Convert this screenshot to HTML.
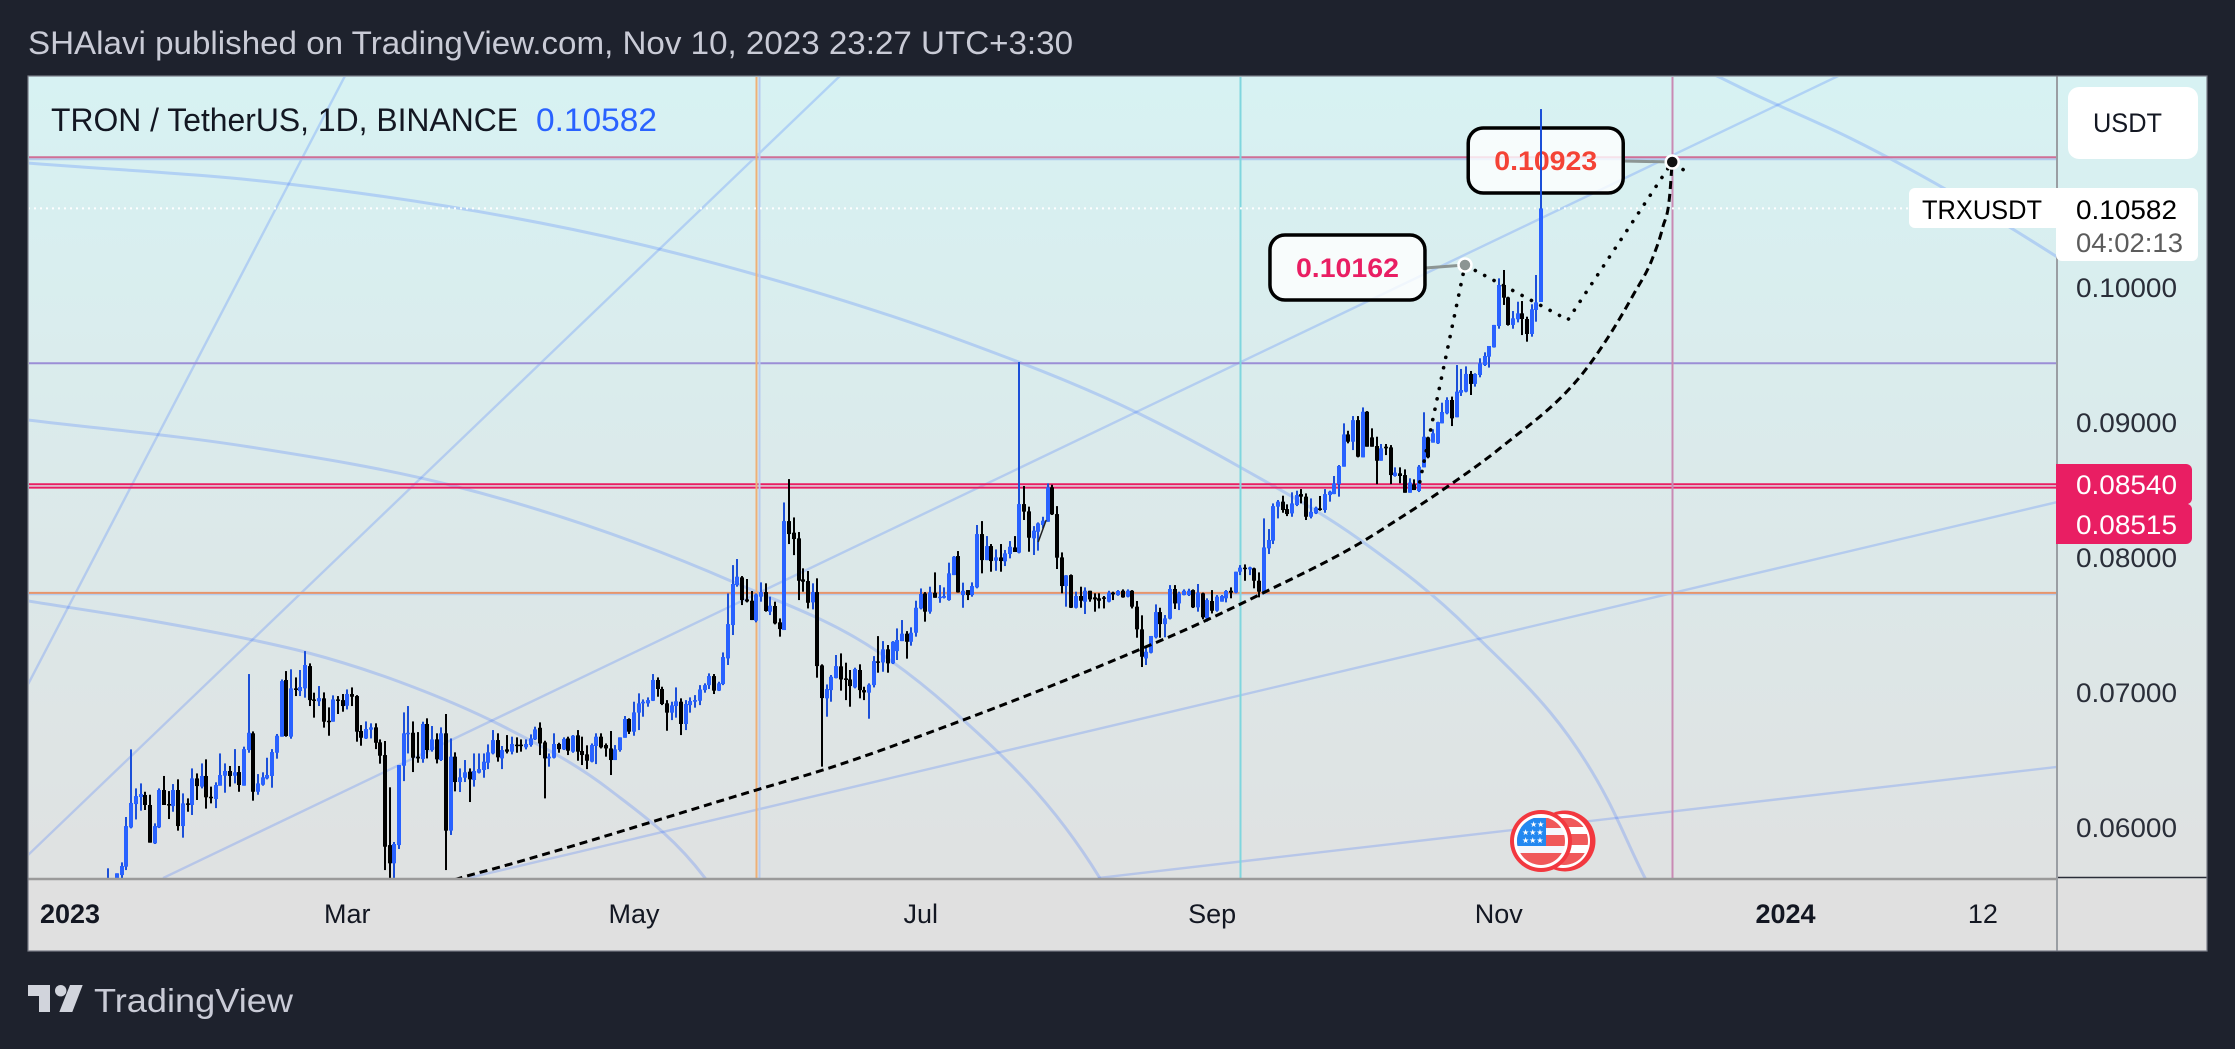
<!DOCTYPE html>
<html lang="en">
<head>
<meta charset="utf-8">
<title>TRXUSDT chart</title>
<style>
html,body{margin:0;padding:0;background:#1e222d;width:2235px;height:1049px;overflow:hidden}
svg{display:block}
text{font-family:"Liberation Sans",sans-serif}
</style>
</head>
<body>
<svg id="chart" xmlns="http://www.w3.org/2000/svg" width="2235" height="1049" viewBox="0 0 2235 1049">
  <defs>
    <linearGradient id="paneGrad" x1="0" y1="0" x2="0" y2="1">
      <stop offset="0" stop-color="#d7f2f3"/>
      <stop offset="1" stop-color="#e0e0e0"/>
    </linearGradient>
    <clipPath id="plotClip"><rect x="29" y="77" width="2028" height="801"/></clipPath>
    <clipPath id="flagClip"><circle cx="1541" cy="841" r="24"/></clipPath>
    <clipPath id="flagBackClip"><circle cx="1564" cy="841" r="24"/></clipPath>
  </defs>

  <rect x="0" y="0" width="2235" height="1049" fill="#1e222d"/>
  <text x="28" y="54" font-size="32" fill="#c9cbd6" textLength="1045" lengthAdjust="spacingAndGlyphs">SHAlavi published on TradingView.com, Nov 10, 2023 23:27 UTC+3:30</text>

  <rect x="28" y="76" width="2179" height="875" fill="url(#paneGrad)"/>
  <rect x="28" y="880" width="2179" height="71" fill="#e0e0e0"/>

  <g id="plot" clip-path="url(#plotClip)">
    <g id="drawingsBack" fill="none"></g>
    <g id="hLines"></g>
    <g id="vLines"></g>
    <line id="lastPriceLine" stroke="#ffffff" stroke-width="2" stroke-dasharray="2 4"/>
    <g id="callouts"></g>
    <g id="candles"></g>
    <g id="drawingsFront" fill="none"></g>
    <g id="dots"></g>
  </g>

  <g>
    <circle cx="1565" cy="841" r="30.5" fill="#f2383f"/>
    <circle cx="1563" cy="841" r="27" fill="#ffffff"/>
    <g clip-path="url(#flagBackClip)">
      <rect x="1540" y="818" width="50" height="9" fill="#f0595a"/>
      <rect x="1540" y="834" width="50" height="11" fill="#f0595a"/>
      <rect x="1540" y="853" width="50" height="16" fill="#f0595a"/>
    </g>
    <circle cx="1541" cy="841" r="31" fill="#f2383f"/>
    <circle cx="1541" cy="841" r="27" fill="#ffffff"/>
    <g clip-path="url(#flagClip)">
      <rect x="1515" y="815" width="52" height="56" fill="#f5f7fb"/>
      <rect x="1515" y="818" width="52" height="10" fill="#f0595a"/>
      <rect x="1515" y="835" width="52" height="11" fill="#f0595a"/>
      <rect x="1515" y="853" width="52" height="16" fill="#f0595a"/>
      <rect x="1515" y="818" width="31" height="28" fill="#2388f0"/>
      <text x="1530" y="827" font-size="8" fill="#fff" style="font-family:'DejaVu Sans',sans-serif">★★</text>
      <text x="1522" y="835" font-size="8" fill="#fff" style="font-family:'DejaVu Sans',sans-serif">★★★</text>
      <text x="1522" y="843" font-size="8" fill="#fff" style="font-family:'DejaVu Sans',sans-serif">★★★</text>
    </g>
  </g>

  <text x="51" y="131" font-size="32" fill="#131722" textLength="467" lengthAdjust="spacingAndGlyphs">TRON / TetherUS, 1D, BINANCE</text>
  <text x="536" y="131" font-size="32" fill="#2962ff" textLength="121" lengthAdjust="spacingAndGlyphs">0.10582</text>

  <line x1="28" y1="879" x2="2057" y2="879" stroke="#9a9a9a" stroke-width="2.5"/>
  <line x1="2057" y1="877.5" x2="2207" y2="877.5" stroke="#2a2e39" stroke-width="1.5"/>
  <line x1="2057" y1="76" x2="2057" y2="951" stroke="#9a9ea3" stroke-width="2"/>
  <rect x="28" y="76" width="2179" height="875" fill="none" stroke="#787b86" stroke-width="1.2"/>

  <g id="priceTicks"></g>
  <g id="timeTicks"></g>

  <g>
    <rect x="2068" y="87" width="130" height="72" rx="11" fill="#ffffff"/>
    <text x="2093" y="132" font-size="27" fill="#131722" textLength="69" lengthAdjust="spacingAndGlyphs">USDT</text>
  </g>

  <g>
    <rect x="1909" y="188" width="160" height="40" rx="6" fill="#ffffff"/>
    <rect x="2056" y="188" width="142" height="73" rx="6" fill="#ffffff"/>
    <text x="1922" y="219" font-size="27" fill="#000000" textLength="120" lengthAdjust="spacingAndGlyphs">TRXUSDT</text>
    <text x="2076" y="219" font-size="27" fill="#000000" textLength="101" lengthAdjust="spacingAndGlyphs">0.10582</text>
    <text x="2076" y="252" font-size="27" fill="#5c5c5c" textLength="107" lengthAdjust="spacingAndGlyphs">04:02:13</text>
  </g>

  <g>
    <path d="M2056 464H2186a6 6 0 0 1 6 6V499a6 6 0 0 1 -4 5H2056Z" fill="#e91e63"/>
    <path d="M2056 504H2188a6 6 0 0 1 4 5V538a6 6 0 0 1 -6 6H2056Z" fill="#e91e63"/>
    <text x="2076" y="494" font-size="27" fill="#ffffff" textLength="101" lengthAdjust="spacingAndGlyphs">0.08540</text>
    <text x="2076" y="534" font-size="27" fill="#ffffff" textLength="101" lengthAdjust="spacingAndGlyphs">0.08515</text>
  </g>

  <g>
    <path d="M28 985H50V1012H39V996H28Z" fill="#d1d4dc"/>
    <circle cx="60.7" cy="990.7" r="5.7" fill="#d1d4dc"/>
    <path d="M70 985H82.7L72.3 1012H59.3Z" fill="#d1d4dc"/>
    <text x="94" y="1012" font-size="33" fill="#c9cbd6" textLength="199" lengthAdjust="spacingAndGlyphs">TradingView</text>
  </g>
</svg>

<script>
// Candle data: prices in 1e-5 USDT, one entry per day starting at firstDay (days since 2023-01-01)
const firstDay = 8;
const highs = [5694,5600,
5657,5738,6074,6575,6286,6323,6261,6239,6027,6286,
6378,6266,6318,6353,6249,6212,6434,6397,6471,6501,
6299,6331,6545,6471,6452,6577,6452,6595,7133,6708,
6392,6405,6513,6577,6689,7093,7155,7168,7108,7163,
7303,7212,6995,7044,6997,6886,6975,6970,6985,7019,
7034,6977,6755,6782,6768,6768,6649,6637,6294,5889,
6459,6849,6896,6782,6703,6780,6805,6748,6694,6738,
6837,6656,6553,6434,6496,6434,6545,6545,6545,6612,
6718,6694,6600,6681,6669,6664,6649,6649,6686,6743,
6775,6639,6545,6694,6624,6664,6669,6681,6718,6669,
6605,6619,6694,6694,6619,6711,6607,6664,6822,6805,
6928,6990,6945,6960,7133,7108,7039,6940,6928,7034,
6953,6940,6960,6977,7051,7064,7138,7133,7076,7293,
7730,7940,7985,7859,7837,7748,7730,7812,7805,7706,
7669,7545,8404,8577,8293,8185,7916,7896,7805,7842,
7205,7056,7126,7274,7286,7217,7163,7180,7205,7039,
7064,7266,7414,7377,7348,7377,7471,7533,7451,7479,
7676,7767,7740,7780,7886,7792,7775,7958,8007,8044,
7810,7755,7812,8237,8266,8155,8096,8056,8096,8052,
8118,8155,9444,8526,8373,8229,8256,8298,8545,8535,
8377,8034,7866,7871,7743,7780,7775,7750,7731,7731,
7711,7750,7743,7755,7760,7760,7755,7674,7568,7343,
7415,7649,7624,7570,7792,7792,7743,7760,7765,7760,
7800,7736,7694,7755,7718,7718,7755,7775,7891,7940,
7945,7928,7921,7886,8286,8207,8397,8422,8454,8390,
8479,8491,8503,8471,8434,8373,8452,8503,8491,8600,
8681,8990,8935,9044,9044,9108,9081,8953,8891,8837,
8837,8829,8664,8664,8649,8583,8575,8681,9072,8891,
8946,9002,9143,9183,9188,9422,9393,9412,9378,9361,
9472,9516,9563,9719,10064,10126,9928,9822,9891,9896,
9780,9872,10089,11318];
const lows = [5540,5530,
5590,5620,5681,5990,6056,6121,6126,5884,5874,5992,
6163,6059,6113,5973,5921,6113,6089,6200,6286,6136,
6175,6140,6306,6254,6299,6323,6261,6306,6550,6195,
6239,6306,6353,6291,6506,6669,6669,6654,6970,6970,
6958,6896,6810,6896,6736,6676,6780,6837,6854,6871,
6896,6632,6602,6652,6656,6577,6469,5681,5620,5620,
5837,6340,6545,6407,6476,6476,6508,6558,6471,6489,
5681,5941,6264,6259,6333,6185,6299,6397,6365,6429,
6538,6484,6429,6545,6538,6550,6558,6575,6595,6644,
6533,6212,6447,6508,6550,6570,6533,6550,6491,6459,
6429,6479,6466,6582,6521,6385,6496,6558,6661,6689,
6676,6718,6817,6891,6933,6965,6903,6713,6792,6810,
6681,6718,6847,6884,6903,6995,7022,6985,7007,7051,
7200,7422,7780,7644,7664,7533,7516,7669,7595,7570,
7501,7410,7459,8096,8014,7681,7743,7619,7612,7106,
6447,6817,6928,7101,7010,6940,6891,7027,6953,6940,
6802,7034,7143,7150,7143,7207,7237,7377,7247,7343,
7410,7612,7521,7580,7698,7661,7693,7676,7866,7736,
7624,7681,7706,7768,7879,7977,7891,7898,7891,7933,
7990,8037,8027,8274,8039,8015,8047,8212,8261,8311,
7911,7731,7632,7622,7619,7624,7578,7669,7595,7619,
7619,7664,7681,7713,7698,7701,7619,7402,7185,7200,
7286,7397,7402,7405,7538,7615,7607,7716,7711,7622,
7595,7538,7521,7582,7595,7669,7664,7694,7731,7866,
7824,7866,7768,7701,7731,8022,8096,8286,8328,8303,
8298,8377,8397,8274,8286,8318,8343,8328,8410,8466,
8447,8669,8842,8792,8738,8738,8817,8817,8540,8713,
8755,8540,8595,8546,8476,8476,8496,8481,8664,8731,
8847,8837,8990,9057,8970,9035,9193,9220,9200,9262,
9331,9415,9403,9551,9691,9867,9714,9691,9738,9644,
9595,9632,9743,9889];
const opens = [5560,5550,
5600,5644,5706,5997,6170,6222,6237,6163,5879,5997,
6274,6170,6155,6274,6007,6175,6163,6360,6299,6378,
6224,6207,6306,6380,6415,6380,6407,6306,6570,6694,
6261,6313,6360,6378,6550,6669,7089,6669,7027,7007,
7027,7192,6945,6931,6953,6787,6780,6945,6940,6898,
6985,6970,6711,6656,6721,6738,6627,6533,5866,5731,
5866,6454,6689,6698,6521,6503,6763,6570,6649,6496,
6694,5973,6521,6333,6365,6410,6348,6402,6422,6476,
6545,6644,6508,6575,6558,6610,6610,6590,6607,6649,
6735,6627,6508,6513,6615,6575,6656,6558,6679,6563,
6538,6484,6600,6669,6607,6582,6496,6570,6661,6800,
6706,6847,6916,6916,6935,7089,7022,6916,6847,6896,
6928,6763,6903,6928,6935,7014,7051,7118,7010,7059,
7249,7496,7792,7849,7686,7676,7528,7706,7740,7595,
7637,7516,7459,8266,8180,8138,7834,7822,7664,7740,
7197,6953,7014,7103,7190,7101,7093,7034,7163,7014,
6995,7051,7227,7219,7316,7212,7303,7377,7432,7372,
7439,7619,7730,7595,7735,7698,7698,7681,7866,8007,
7718,7755,7718,7775,8170,7977,8081,7973,7997,7968,
8022,8071,8032,8392,8338,8138,8187,8237,8261,8516,
8318,7997,7785,7866,7624,7711,7669,7750,7701,7694,
7701,7669,7736,7718,7750,7706,7750,7632,7464,7249,
7291,7405,7592,7503,7543,7763,7656,7718,7718,7755,
7627,7731,7545,7674,7602,7669,7694,7750,7736,7891,
7921,7908,7916,7824,7731,8064,8121,8373,8410,8355,
8323,8385,8466,8447,8298,8323,8360,8348,8459,8466,
8540,8669,8908,8854,9014,8738,9076,8886,8822,8713,
8817,8812,8600,8620,8607,8476,8538,8489,8664,8886,
8847,8842,8990,9064,9163,9035,9217,9225,9356,9282,
9348,9422,9484,9553,9711,10015,9923,9719,9761,9805,
9763,9652,9830,9889];
const closes = [5610,5590,
5657,5711,6007,6178,6229,6244,6163,5884,6007,6274,
6163,6160,6274,6007,6175,6168,6360,6303,6378,6220,
6215,6311,6385,6415,6378,6405,6311,6577,6698,6261,
6323,6368,6385,6555,6676,7081,6674,7027,7015,7037,
7200,6940,6936,6955,6780,6780,6945,6936,6896,6985,
6965,6706,6661,6726,6738,6624,6528,5854,5731,5874,
6459,6694,6698,6513,6508,6763,6570,6649,6501,6694,
5973,6521,6333,6368,6405,6353,6415,6429,6484,6553,
6644,6516,6570,6558,6615,6602,6600,6615,6656,6723,
6619,6508,6521,6615,6577,6652,6565,6676,6558,6533,
6491,6607,6669,6590,6582,6496,6575,6664,6800,6706,
6849,6916,6928,6940,7089,7022,6911,6847,6901,6931,
6763,6911,6933,6940,7019,7051,7118,7010,7064,7259,
7503,7800,7854,7681,7671,7533,7723,7740,7600,7639,
7508,7466,8266,8170,8133,7824,7817,7661,7740,7192,
6955,7022,7113,7192,7093,7089,7044,7170,7014,6997,
7054,7229,7217,7316,7212,7372,7385,7432,7372,7439,
7624,7726,7595,7738,7698,7706,7711,7879,8002,7738,
7750,7718,7785,8170,7977,8081,7970,7997,7970,8027,
8076,8037,8392,8336,8143,8195,8249,8269,8516,8316,
7995,7785,7864,7624,7711,7676,7750,7686,7686,7676,
7694,7736,7723,7748,7701,7750,7632,7464,7261,7298,
7415,7592,7503,7545,7763,7656,7731,7750,7750,7627,
7736,7553,7681,7602,7706,7711,7748,7736,7891,7921,
7911,7923,7824,7743,8071,8126,8377,8410,8348,8318,
8397,8459,8447,8298,8335,8365,8348,8466,8484,8545,
8674,8908,8854,9014,8743,9076,8817,8817,8713,8805,
8805,8607,8625,8600,8476,8551,8496,8669,8891,8738,
8916,8999,9074,9163,9027,9225,9237,9356,9282,9356,
9435,9489,9563,9719,10015,9921,9719,9768,9805,9763,
9652,9835,9886,10582];

// Axis tick data
const priceTickValues = [10000, 9000, 8000, 7000, 6000];
const priceTickLabels = ["0.10000", "0.09000", "0.08000", "0.07000", "0.06000"];
const timeTickDays = [0, 59, 120, 181, 243, 304, 365, 407];
const timeTickLabels = ["2023", "Mar", "May", "Jul", "Sep", "Nov", "2024", "12"];
const timeTickBold = [true, false, false, false, false, false, true, false];

// Horizontal levels (price)
const levelPrices = [10948, 10963, 9437, 8540, 8515, 7726, 7736];
const levelColors = ["#b1cbee", "#cf6f96", "#9b8ed6", "#e91e63", "#e91e63", "#b7cdee", "#e7956b"];
const lastPrice = 10582;

// Vertical levels (day)
const vLevelDays = [146.5, 146, 248.9, 340.9];
const vLevelColors = ["#b7cbef", "#eeb077", "#7fd6de", "#c98ab4"];

// Fib arcs as [day, price] samples
const arc0Days = [342.6, 350.4, 357.4, 378.7, 422.8, 431.9];
const arc0Prices = [11681, 11563, 11444, 11104, 10222, 10015];
const arc1Days = [-8.9, 46.4, 126.2, 146.2, 189.4, 227.2, 248.9, 274.5, 297.9, 327.2, 335.1, 342];
const arc1Prices = [10918, 10763, 10274, 10089, 9607, 9067, 8667, 8126, 7459, 6200, 5622, 5200];
const arc2Days = [-8.9, 38.3, 80.9, 141.1, 172.3, 187.2, 219.1, 225.5];
const arc2Prices = [9015, 8815, 8533, 7815, 7289, 6882, 5622, 5237];
const arc3Days = [-8.9, 16.4, 38.9, 50, 70.2, 91.5, 114.9, 135.1, 142.6];
const arc3Prices = [7674, 7533, 7385, 7296, 7074, 6756, 6274, 5622, 5237];

// Fan lines: start day, start price, end day, end price
const fanStartDays = [-8.9, -8.9, 19.8, 84.7, 218.7];
const fanStartPrices = [7059, 5793, 5622, 5622, 5622];
const fanEndDays = [58.5, 163.8, 376.2, 422.8, 422.8];
const fanEndPrices = [11563, 11563, 11563, 8407, 6445];

// Dashed parabolic trend
const trendDays = [76.6, 83, 91.5, 146.8, 160.2, 186.6, 222.8, 241.9, 253.8, 274.5, 283, 293, 304.3, 324, 332.6, 336.8, 338.9, 340.4, 340.9];
const trendPrices = [5548, 5622, 5704, 6282, 6422, 6748, 7245, 7533, 7733, 8104, 8289, 8519, 8807, 9459, 9941, 10222, 10444, 10696, 10933];

// Dotted path
const pathDays = [287.2, 296.8, 318.7, 340.9, 344.3];
const pathPrices = [8556, 10163, 9756, 10926, 10844];

// Small thin segment drawn near the July high
const segDays = [206, 207.7];
const segPrices = [8111, 8274];

// Callouts
const calloutDays = [296.8, 340.9];
const calloutPrices = [10163, 10926];
const calloutLabels = ["0.10162", "0.10923"];
const calloutColors = ["#e91e63", "#f44336"];
const calloutDotColors = ["#8c9593", "#111111"];

const NS = "http://www.w3.org/2000/svg";
function xOf(day) { return 70 + day * 4.7; }
function yOf(price) { return 287 + (10000 - price) * 0.135; }
function make(tag, parent) {
  const el = document.createElementNS(NS, tag);
  parent.appendChild(el);
  return el;
}
// Hermite spline with tangents from a three-point parabolic fit, safe for uneven sample spacing
function smoothPath(days, prices) {
  const xs = days.map(xOf), ys = prices.map(yOf), n = xs.length;
  const slopes = [];
  for (let i = 0; i < n - 1; i++) slopes.push((ys[i + 1] - ys[i]) / (xs[i + 1] - xs[i]));
  const tangents = [slopes[0]];
  for (let i = 1; i < n - 1; i++) {
    const h0 = xs[i] - xs[i - 1], h1 = xs[i + 1] - xs[i];
    tangents.push((slopes[i - 1] * h1 + slopes[i] * h0) / (h0 + h1));
  }
  tangents.push(slopes[n - 2]);
  let s = "M" + xs[0].toFixed(1) + " " + ys[0].toFixed(1);
  for (let i = 0; i < n - 1; i++) {
    const h = (xs[i + 1] - xs[i]) / 3;
    s += "C" + (xs[i] + h).toFixed(1) + " " + (ys[i] + tangents[i] * h).toFixed(1) + " " +
      (xs[i + 1] - h).toFixed(1) + " " + (ys[i + 1] - tangents[i + 1] * h).toFixed(1) + " " +
      xs[i + 1].toFixed(1) + " " + ys[i + 1].toFixed(1);
  }
  return s;
}
function polyPath(days, prices) {
  return days.map((d, i) => (i ? "L" : "M") + xOf(d).toFixed(1) + " " + yOf(prices[i]).toFixed(1)).join("");
}

// Fib arcs
const back = document.getElementById("drawingsBack");
[[arc0Days, arc0Prices], [arc1Days, arc1Prices], [arc2Days, arc2Prices], [arc3Days, arc3Prices]].forEach(function (a) {
  const el = make("path", back);
  
  
  el.setAttribute("d", smoothPath(a[0], a[1]));
  el.setAttribute("stroke", "#2962ff");
  el.setAttribute("stroke-opacity", "0.22");
  el.setAttribute("stroke-width", "3");
});

// Fan lines
fanStartDays.forEach(function (d, i) {
  const el = make("line", back);
  
  
  el.setAttribute("x1", xOf(d));
  el.setAttribute("y1", yOf(fanStartPrices[i]));
  el.setAttribute("x2", xOf(fanEndDays[i]));
  el.setAttribute("y2", yOf(fanEndPrices[i]));
  el.setAttribute("stroke", "#2962ff");
  el.setAttribute("stroke-opacity", "0.22");
  el.setAttribute("stroke-width", "2.4");
});

// Horizontal levels
const hGroup = document.getElementById("hLines");
levelPrices.forEach(function (p, i) {
  const el = make("line", hGroup);
  
  
  const y = yOf(p) + 0.2;
  el.setAttribute("x1", 28);
  el.setAttribute("x2", 2057);
  el.setAttribute("y1", y);
  el.setAttribute("y2", y);
  el.setAttribute("stroke", levelColors[i]);
  el.setAttribute("stroke-width", "2");
});

// Vertical levels
const vGroup = document.getElementById("vLines");
vLevelDays.forEach(function (d, i) {
  const el = make("line", vGroup);
  
  
  const x = Math.round(xOf(d)) + 0.5;
  el.setAttribute("x1", x);
  el.setAttribute("x2", x);
  el.setAttribute("y1", 76);
  el.setAttribute("y2", 880);
  el.setAttribute("stroke", vLevelColors[i]);
  el.setAttribute("stroke-width", "2");
});

// Last price line
const lpl = document.getElementById("lastPriceLine");
lpl.setAttribute("x1", 28);
lpl.setAttribute("x2", 1909);
lpl.setAttribute("y1", yOf(lastPrice));
lpl.setAttribute("y2", yOf(lastPrice));

// Callout boxes
const calloutGroup = document.getElementById("callouts");
const dotsGroup = document.getElementById("dots");
calloutDays.forEach(function (d, i) {
  const cx = xOf(d), cy = yOf(calloutPrices[i]);
  const boxRight = cx - (i === 0 ? 40 : 49);
  const boxTop = cy - (i === 0 ? 30 : 34);
  const conn = make("line", calloutGroup);
  
  
  conn.setAttribute("x1", boxRight);
  conn.setAttribute("y1", boxTop + 33);
  conn.setAttribute("x2", cx);
  conn.setAttribute("y2", cy);
  conn.setAttribute("stroke", "#8c9593");
  conn.setAttribute("stroke-width", "3");
  const box = make("rect", calloutGroup);
  
  
  box.setAttribute("x", boxRight - 155);
  box.setAttribute("y", boxTop);
  box.setAttribute("width", 155);
  box.setAttribute("height", 65);
  box.setAttribute("rx", 15);
  box.setAttribute("fill", "#ffffff");
  box.setAttribute("fill-opacity", "0.8");
  box.setAttribute("stroke", "#000000");
  box.setAttribute("stroke-width", "3.5");
  const t = make("text", calloutGroup);
  
  
  t.setAttribute("x", boxRight - 129);
  t.setAttribute("y", boxTop + 42);
  t.setAttribute("font-size", "27");
  t.setAttribute("font-weight", "bold");
  t.setAttribute("fill", calloutColors[i]);
  t.setAttribute("textLength", "103");
  t.setAttribute("lengthAdjust", "spacingAndGlyphs");
  t.textContent = calloutLabels[i];
  const dot = make("circle", dotsGroup);
  
  
  dot.setAttribute("cx", cx);
  dot.setAttribute("cy", cy);
  dot.setAttribute("r", 6.5);
  dot.setAttribute("fill", calloutDotColors[i]);
  dot.setAttribute("stroke", "#ffffff");
  dot.setAttribute("stroke-width", "2.5");
});

// Candles
const candleGroup = document.getElementById("candles");
closes.forEach(function (c, i) {
  const o = opens[i], h = highs[i], l = lows[i];
  const x = Math.round(xOf(firstDay + i));
  const up = c >= o;
  const wick = make("rect", candleGroup);
  
  
  wick.setAttribute("x", x - 1);
  wick.setAttribute("y", yOf(h));
  wick.setAttribute("width", 2);
  wick.setAttribute("height", Math.max(1, yOf(l) - yOf(h)));
  wick.setAttribute("fill", up ? "#1b4fd8" : "#000000");
  const body = make("rect", candleGroup);
  
  
  const top = yOf(Math.max(o, c)), bot = yOf(Math.min(o, c));
  body.setAttribute("x", x - 2);
  body.setAttribute("y", top);
  body.setAttribute("width", 4);
  body.setAttribute("height", Math.max(1.5, bot - top));
  body.setAttribute("fill", up ? "#2962ff" : "#000000");
});

// Front drawings
const front = document.getElementById("drawingsFront");
const trend = make("path", front);


trend.setAttribute("d", smoothPath(trendDays, trendPrices));
trend.setAttribute("stroke", "#000000");
trend.setAttribute("stroke-width", "3");
trend.setAttribute("stroke-dasharray", "8 5");
const zig = make("path", front);


zig.setAttribute("d", polyPath(pathDays, pathPrices));
zig.setAttribute("stroke", "#000000");
zig.setAttribute("stroke-width", "3.6");
zig.setAttribute("stroke-linecap", "round");
zig.setAttribute("stroke-dasharray", "0.1 10.5");
const seg = make("path", front);


seg.setAttribute("d", polyPath(segDays, segPrices));
seg.setAttribute("stroke", "#222222");
seg.setAttribute("stroke-width", "1.5");

// Price axis
const priceGroup = document.getElementById("priceTicks");
priceTickValues.forEach(function (p, i) {
  const t = make("text", priceGroup);
  
  
  t.setAttribute("x", 2076);
  t.setAttribute("y", yOf(p) + 10);
  t.setAttribute("font-size", "27");
  t.setAttribute("fill", "#2a2e39");
  t.setAttribute("textLength", "101");
  t.setAttribute("lengthAdjust", "spacingAndGlyphs");
  t.textContent = priceTickLabels[i];
});

// Time axis
const timeGroup = document.getElementById("timeTicks");
timeTickDays.forEach(function (d, i) {
  const t = make("text", timeGroup);
  
  
  t.setAttribute("x", xOf(d));
  t.setAttribute("y", 923);
  t.setAttribute("text-anchor", "middle");
  t.setAttribute("font-size", "27");
  t.setAttribute("fill", "#131722");
  if (timeTickBold[i]) t.setAttribute("font-weight", "bold");
  t.textContent = timeTickLabels[i];
});
</script>
</body>
</html>
